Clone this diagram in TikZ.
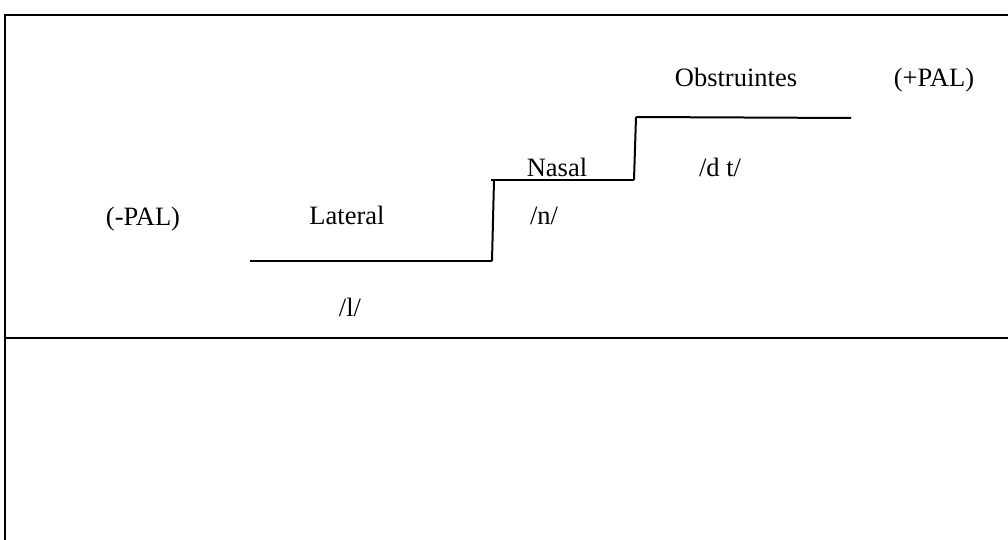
\documentclass[tikz,border=0pt]{standalone}
\usepackage{fontspec}
\setmainfont{Liberation Serif}
\begin{document}
\begin{tikzpicture}[x=1pt,y=-1pt,
  frame/.style={line width=2.3pt},
  stepline/.style={line width=2pt},
  lbl/.style={anchor=base,inner sep=0pt,font=\fontsize{26.5}{31}\selectfont}]
\useasboundingbox (0,0) rectangle (1008,540);

% table frame
\coordinate (tl) at (5,15);
\coordinate (tr) at (1008,15);
\coordinate (bl) at (5,540);
\coordinate (ml) at (5,338);
\coordinate (mr) at (1008,338);
\draw[frame] (tr) -- (tl) -- (bl);
\draw[frame] (ml) -- (mr);

% staircase of steps
\coordinate (s0) at (250,261);
\coordinate (s1) at (492,261);
\coordinate (s2) at (494,180);
\coordinate (s3) at (634,180);
\coordinate (s4) at (636,117);
\coordinate (s5) at (851,118);
\draw[stepline] (s0) -- (s1);
\draw[stepline] (s1) -- (s2);
\draw[stepline] (s2 -| 491,0) -- (s3);
\draw[stepline] (s3) -- (s4);
\draw[stepline] (s4) -- (s5);

% labels
\node[lbl] (minus) at (143,225) {(-PAL)};
\node[lbl] (lat) at (347,224) {Lateral};
\node[lbl] (l) at (350,316) {/l/};
\node[lbl] (nas) at (557,177) {Nasal};
\node[lbl] (n) at (544,224) {/n/};
\node[lbl] (dt) at (720,177) {/d t/};
\node[lbl] (obs) at (736,87) {Obstruintes};
\node[lbl] (plus) at (934,87) {(+PAL)};
\end{tikzpicture}
\end{document}
